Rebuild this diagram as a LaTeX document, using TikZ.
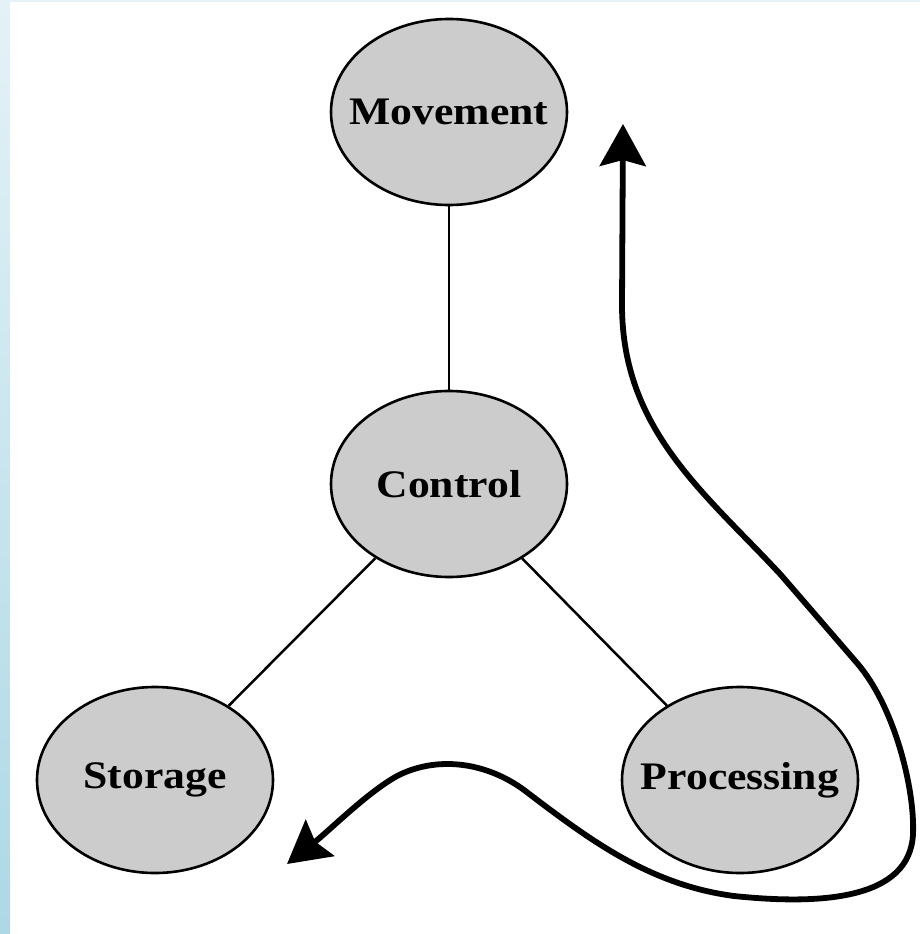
\documentclass[tikz,border=0pt]{standalone}
\usepackage{fontspec}
\usepackage{graphicx}
\setmainfont{Liberation Serif}
\usetikzlibrary{positioning, calc, shapes, arrows.meta}

\newcommand{\widelbl}[1]{\scalebox{1.12}[1]{#1}}

\begin{document}
\begin{tikzpicture}[x=1pt, y=-1pt,
    part/.style={draw, ellipse, line width=2.6pt, fill=black!20, minimum width=236pt, minimum height=186pt, inner xsep=-40pt, inner ysep=0pt, font=\fontsize{39}{44}\selectfont\bfseries},
    link/.style={line width=2.5pt},
    flow/.style={line width=5.8pt, {Stealth[length=42pt, width=46pt, inset=6pt]}-{Stealth[length=42pt, width=46pt, inset=6pt]}}]
    \useasboundingbox (0,0) rectangle (920,934);
    % background strip
    \shade[top color={rgb,255:red,228;green,242;blue,247}, bottom color={rgb,255:red,173;green,216;blue,230}] (0,0) rectangle (920,934);
    \fill[white] (10,2) rectangle (920,934);

    \node[part] (move) at (449,112) {\widelbl{Movement}};
    \node[part] (ctrl) at (449,484) {\widelbl{Control}};
    \node[part] (store) at (155,780) {\widelbl{Storage}};
    \node[part] (proc) at (740,780) {\widelbl{Processing}};

    \draw[link] (move) -- (ctrl);
    \draw[link] (ctrl) -- (store);
    \draw[link] (ctrl) -- (proc);

    \coordinate (up) at (623,124);
    \coordinate (down) at (287,864);
    \draw[flow] (up) -- (622,305)
        .. controls (622,430) and (705,493) .. (781,575)
        -- (857,663)
        .. controls (895,707) and (915,790) .. (913,834)
        .. controls (910,900) and (820,905) .. (734,896)
        .. controls (650,885) and (590,840) .. (528,793)
        .. controls (490,763) and (440,755) .. (399,775)
        .. controls (370,790) and (330,830) .. (down);

\end{tikzpicture}
\end{document}
